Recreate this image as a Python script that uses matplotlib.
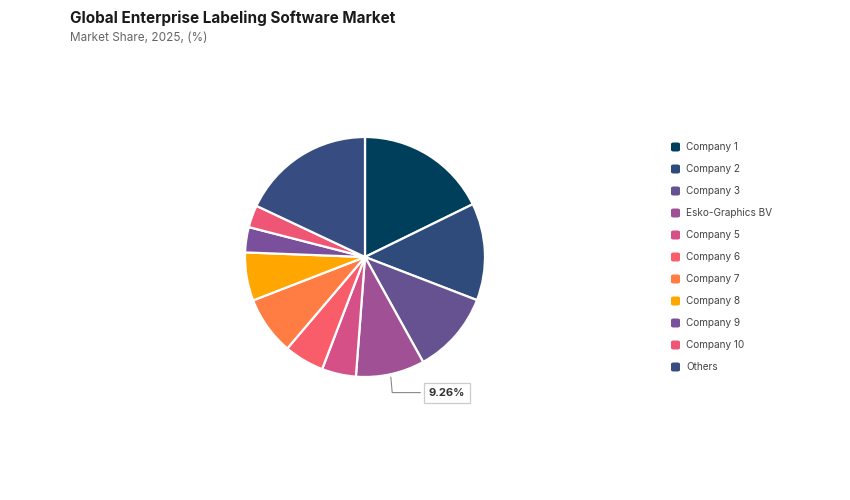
import matplotlib
matplotlib.use("Agg")
import matplotlib.pyplot as plt
from matplotlib.patches import FancyBboxPatch
import numpy as np

categories = ["Company 1", "Company 2", "Company 3", "Esko-Graphics BV", "Company 5",
              "Company 6", "Company 7", "Company 8", "Company 9", "Company 10", "Others"]
shares = [17.75, 13.1, 11.1, 9.26, 4.6, 5.4, 7.9, 6.5, 3.4, 3.0, 17.99]
colors = ["#003f5c", "#2f4b7c", "#665191", "#a05195", "#d45087", "#f95d6a",
          "#ff7c43", "#ffa600", "#7a4f9c", "#ef5675", "#374c80"]
labeled = "Esko-Graphics BV"

plt.rcParams['font.family'] = ['Inter', 'DejaVu Sans']

W, H = 850, 500
fig = plt.figure(figsize=(8.5, 5.0), dpi=100)
fig.patch.set_facecolor("white")

cx, cy, r = 365, 257, 120
ax = fig.add_axes([(cx - r) / W, (H - cy - r) / H, 2 * r / W, 2 * r / H])
wedges, _ = ax.pie(shares, colors=colors, startangle=90, counterclock=False,
                   radius=1.0, wedgeprops=dict(edgecolor="white", linewidth=1.6))
ax.set_xlim(-1, 1)
ax.set_ylim(-1, 1)
ax.set_axis_off()

# annotation for Esko-Graphics BV
idx = categories.index(labeled)
start = 90 - sum(shares[:idx]) / 100 * 360
end = start - shares[idx] / 100 * 360
ang = np.deg2rad((start + end) / 2)
px, py = np.cos(ang), np.sin(ang)
ax.annotate(f"{shares[idx]:.2f}%", xy=(px, py), xytext=(0.53, -1.13),
            fontsize=8, fontweight="bold", color="#333333", ha="left", va="center",
            bbox=dict(boxstyle="square,pad=0.45", fc="white", ec="#cccccc", lw=0.9),
            arrowprops=dict(arrowstyle="-", color="#888888", lw=0.8,
                            connectionstyle="angle,angleA=0,angleB=95,rad=0"),
            annotation_clip=False)

# title
fig.text(70 / W, 1 - 18 / H, "Global Enterprise Labeling Software Market",
         fontsize=11, fontweight="bold", color="#1a1a1a", ha="left", va="center")
fig.text(70 / W, 1 - 38 / H, "Market Share, 2025, (%)",
         fontsize=8.5, color="#666666", ha="left", va="center")

# legend
lx, ly0, dy = 671, 147, 22
for i, (cat, col) in enumerate(zip(categories, colors)):
    y = ly0 + i * dy
    sq = FancyBboxPatch(((lx) / W, 1 - (y + 4.5) / H), 9 / W, 9 / H,
                        boxstyle="round,pad=0,rounding_size=0.003",
                        transform=fig.transFigure, fc=col, ec="none")
    fig.patches.append(sq)
    fig.text((lx + 15) / W, 1 - y / H, cat, fontsize=7.2, color="#444444",
             ha="left", va="center")

fig.savefig("out.png", dpi=100, facecolor="white")
